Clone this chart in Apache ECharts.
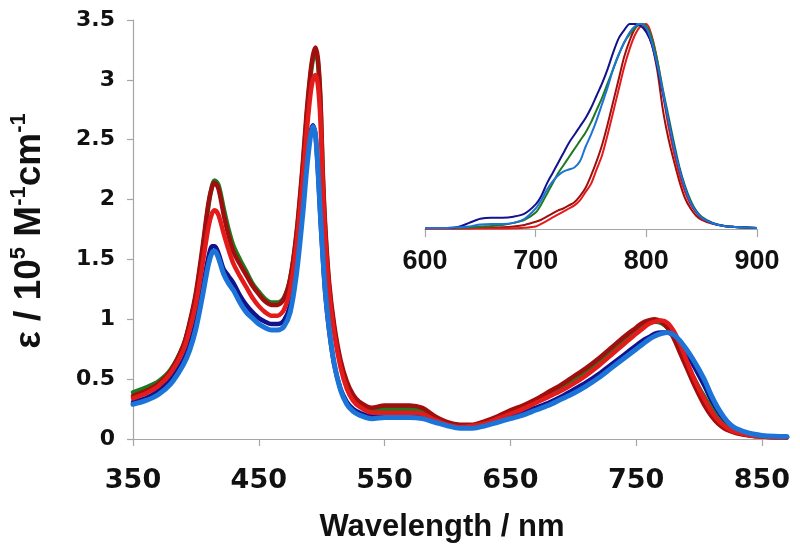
<!DOCTYPE html>
<html>
<head>
<meta charset="utf-8">
<script src="https://cdn.jsdelivr.net/npm/echarts@6/dist/echarts.min.js"></script>
<style>html,body{margin:0;padding:0;background:#fff}#c{width:800px;height:551px}</style>
</head>
<body>
<div id="c"></div>
<script>
// ---------- main absorption spectra ----------
const wavelengths = [350,360,370,380,390,395,400,405,410,413,415,418,422,426,430,435,440,445,450,455,460,465,470,475,480,485,488,491,493,495,497,499,501,503,506,510,515,520,525,530,540,550,560,570,580,590,600,610,620,630,640,650,660,670,680,690,700,710,720,730,740,750,755,760,765,770,775,780,785,790,795,800,805,810,815,820,825,830,840,850,860,870];
const absDarkRed = [0.36,0.40,0.46,0.57,0.78,0.97,1.22,1.58,1.97,2.11,2.14,2.09,1.88,1.70,1.56,1.46,1.37,1.28,1.21,1.15,1.12,1.12,1.17,1.34,1.72,2.30,2.72,3.05,3.20,3.27,3.18,2.85,2.20,1.75,1.30,0.95,0.66,0.48,0.37,0.31,0.26,0.28,0.28,0.28,0.26,0.19,0.14,0.12,0.12,0.15,0.19,0.24,0.28,0.33,0.39,0.45,0.52,0.59,0.67,0.76,0.85,0.93,0.97,0.99,1.00,0.98,0.93,0.84,0.72,0.60,0.48,0.37,0.27,0.19,0.13,0.09,0.065,0.048,0.03,0.02,0.015,0.015];
const absGreen = [0.39,0.43,0.48,0.58,0.78,0.96,1.20,1.55,1.95,2.12,2.16,2.12,1.93,1.75,1.61,1.50,1.40,1.30,1.23,1.17,1.14,1.14,1.18,1.34,1.70,2.27,2.68,3.02,3.17,3.24,3.15,2.82,2.17,1.72,1.27,0.92,0.63,0.45,0.35,0.29,0.24,0.25,0.25,0.25,0.23,0.17,0.13,0.11,0.11,0.14,0.18,0.22,0.26,0.31,0.36,0.42,0.48,0.55,0.63,0.72,0.81,0.90,0.94,0.97,0.98,0.97,0.93,0.86,0.76,0.64,0.53,0.43,0.34,0.25,0.17,0.115,0.08,0.055,0.032,0.02,0.015,0.015];
const absRed = [0.34,0.38,0.44,0.55,0.74,0.91,1.13,1.44,1.77,1.89,1.91,1.87,1.72,1.58,1.46,1.36,1.27,1.18,1.11,1.06,1.03,1.03,1.08,1.25,1.62,2.17,2.55,2.87,3.00,3.04,2.96,2.66,2.08,1.65,1.22,0.88,0.60,0.42,0.32,0.27,0.22,0.22,0.22,0.22,0.21,0.16,0.12,0.10,0.11,0.13,0.17,0.21,0.25,0.30,0.35,0.40,0.46,0.53,0.61,0.70,0.79,0.88,0.92,0.96,0.98,0.99,0.97,0.90,0.79,0.66,0.53,0.42,0.32,0.23,0.16,0.11,0.075,0.055,0.032,0.02,0.015,0.015];
const absNavy = [0.31,0.34,0.40,0.50,0.66,0.79,0.98,1.24,1.52,1.61,1.61,1.55,1.42,1.36,1.30,1.20,1.12,1.06,1.01,0.98,0.96,0.96,0.99,1.12,1.45,1.95,2.30,2.55,2.62,2.55,2.25,1.85,1.50,1.20,0.90,0.62,0.42,0.31,0.25,0.22,0.19,0.20,0.20,0.20,0.19,0.15,0.12,0.10,0.10,0.12,0.15,0.19,0.22,0.26,0.30,0.35,0.41,0.47,0.54,0.62,0.70,0.78,0.82,0.85,0.88,0.89,0.89,0.86,0.80,0.72,0.63,0.53,0.43,0.32,0.23,0.16,0.11,0.075,0.042,0.026,0.02,0.015];
const absLightBlue = [0.29,0.32,0.37,0.46,0.62,0.74,0.92,1.18,1.46,1.56,1.57,1.51,1.38,1.30,1.24,1.14,1.06,1.01,0.96,0.93,0.91,0.91,0.94,1.06,1.38,1.88,2.24,2.52,2.61,2.55,2.26,1.87,1.52,1.22,0.92,0.63,0.41,0.29,0.23,0.20,0.17,0.18,0.18,0.18,0.17,0.14,0.11,0.09,0.09,0.11,0.14,0.17,0.20,0.24,0.28,0.33,0.38,0.44,0.51,0.59,0.67,0.75,0.79,0.83,0.86,0.88,0.89,0.87,0.82,0.75,0.67,0.58,0.48,0.36,0.26,0.18,0.12,0.085,0.048,0.03,0.022,0.02];
const xTicks = [350,450,550,650,750,850];
const yTicks = [0,0.5,1,1.5,2,2.5,3,3.5];

// ---------- inset (normalised emission) ----------
const insetWavelengths = [600,620,630,640,650,660,670,680,690,700,705,710,715,720,725,730,735,740,745,750,755,760,765,770,775,780,785,790,795,800,805,810,815,820,825,830,835,840,845,850,860,870,880,890,900];
const emDarkRed = [0.002,0.002,0.003,0.004,0.005,0.006,0.008,0.012,0.02,0.035,0.045,0.06,0.075,0.09,0.10,0.115,0.13,0.16,0.20,0.26,0.33,0.41,0.51,0.62,0.73,0.84,0.92,0.98,1.0,0.97,0.90,0.77,0.58,0.44,0.33,0.23,0.15,0.10,0.065,0.045,0.025,0.015,0.01,0.007,0.005];
const emRed = [0.002,0.002,0.002,0.002,0.003,0.003,0.003,0.004,0.006,0.012,0.025,0.04,0.055,0.07,0.085,0.10,0.115,0.14,0.18,0.22,0.29,0.36,0.46,0.57,0.68,0.79,0.88,0.95,0.99,1.0,0.94,0.82,0.66,0.50,0.37,0.26,0.18,0.12,0.08,0.05,0.027,0.015,0.01,0.007,0.005];
const emGreen = [0.005,0.005,0.006,0.008,0.012,0.015,0.02,0.03,0.045,0.08,0.12,0.17,0.22,0.27,0.31,0.35,0.39,0.43,0.47,0.52,0.58,0.64,0.71,0.78,0.85,0.91,0.95,0.98,1.0,0.99,0.93,0.82,0.68,0.55,0.42,0.30,0.21,0.14,0.09,0.06,0.03,0.016,0.01,0.007,0.005];
const emNavy = [0.005,0.005,0.01,0.03,0.05,0.055,0.055,0.06,0.075,0.12,0.16,0.22,0.27,0.32,0.37,0.42,0.46,0.50,0.54,0.59,0.65,0.71,0.78,0.86,0.93,0.97,1.0,1.0,0.99,0.96,0.90,0.79,0.66,0.53,0.40,0.29,0.20,0.13,0.085,0.055,0.028,0.015,0.01,0.007,0.005];
const emLightBlue = [0.005,0.005,0.008,0.012,0.022,0.025,0.025,0.03,0.05,0.10,0.14,0.19,0.23,0.26,0.28,0.29,0.30,0.33,0.40,0.46,0.53,0.61,0.69,0.78,0.85,0.91,0.96,0.99,1.0,0.98,0.91,0.80,0.67,0.53,0.40,0.29,0.20,0.13,0.085,0.055,0.028,0.015,0.01,0.007,0.005];
const insetTicks = [600,700,800,900];

const colors = {navy:'#12128c', green:'#1f7a1f', red:'#e41b1b', darkred:'#a00e0e', lightblue:'#1c74d8'};

function pairs(xs, ys){ return xs.map((x,i)=>[x, ys[i]]); }
function mainLine(name, ys, color, w){
  return {name, type:'line', xAxisIndex:0, yAxisIndex:0, data:pairs(wavelengths, ys), showSymbol:false, smooth:0.3,
    lineStyle:{color, width:w, cap:'round', join:'round'}, itemStyle:{color}, z:2, silent:true};
}
function insetLine(name, ys, color){
  return {name, type:'line', xAxisIndex:1, yAxisIndex:1, data:pairs(insetWavelengths, ys), showSymbol:false, smooth:0.3,
    lineStyle:{color, width:2, join:'round'}, itemStyle:{color}, z:3, silent:true};
}

const axisGray = '#a6a6a6';
const chart = echarts.init(document.getElementById('c'), null, {renderer:'canvas'});
chart.setOption({
  animation:false,
  backgroundColor:'#fff',
  grid:[
    {left:133, right:13, top:20, bottom:112, containLabel:false},
    {left:425, width:332, top:24, height:205, containLabel:false}
  ],
  xAxis:[
    {type:'value', gridIndex:0, min:350, max:870,
      axisLine:{show:true, onZero:false, lineStyle:{color:axisGray, width:1.2}},
      axisTick:{show:true, length:7, inside:false, customValues:xTicks, lineStyle:{color:axisGray, width:1.2}},
      axisLabel:{customValues:xTicks, margin:28, color:'#111', fontFamily:'DejaVu Sans', fontWeight:'bold', fontSize:27},
      splitLine:{show:false}},
    {type:'value', gridIndex:1, min:600, max:900, interval:100,
      axisLine:{show:true, onZero:false, lineStyle:{color:axisGray, width:1.2}},
      axisTick:{show:true, length:8, lineStyle:{color:axisGray, width:1.2}},
      axisLabel:{customValues:insetTicks, margin:19, color:'#111', fontFamily:'Liberation Sans', fontWeight:'bold', fontSize:27},
      splitLine:{show:false}}
  ],
  yAxis:[
    {type:'value', gridIndex:0, min:0, max:3.5, interval:0.5,
      axisLine:{show:true, lineStyle:{color:axisGray, width:1.2}},
      axisTick:{show:true, length:6, lineStyle:{color:axisGray, width:1.2}},
      axisLabel:{customValues:yTicks, margin:18, color:'#111', fontFamily:'DejaVu Sans', fontWeight:'bold', fontSize:22},
      splitLine:{show:false}},
    {type:'value', gridIndex:1, min:0, max:1, show:false, splitLine:{show:false}}
  ],
  series:[
    mainLine('navy', absNavy, colors.navy, 4.5),
    mainLine('green', absGreen, colors.green, 4.5),
    mainLine('darkred', absDarkRed, colors.darkred, 4.5),
    mainLine('red', absRed, colors.red, 4.5),
    mainLine('lightblue', absLightBlue, colors.lightblue, 5),
    insetLine('darkred-em', emDarkRed, colors.darkred),
    insetLine('red-em', emRed, colors.red),
    insetLine('green-em', emGreen, colors.green),
    insetLine('navy-em', emNavy, colors.navy),
    insetLine('lightblue-em', emLightBlue, colors.lightblue)
  ],
  graphic:[
    {type:'text', x:442, y:527, style:{text:'Wavelength / nm', fill:'#111', font:'bold 31px "Liberation Sans", Arial, sans-serif', align:'center', verticalAlign:'middle'}},
    {type:'text', x:28, y:231, rotation:Math.PI/2,
      style:{text:'{a|ε / 10}{s|5}{a| M}{s|-1}{a|cm}{s|-1}', fill:'#111', align:'center', verticalAlign:'middle',
        rich:{
          a:{fontFamily:'Liberation Sans', fontWeight:'bold', fontSize:37, fill:'#111', verticalAlign:'bottom', lineHeight:41},
          s:{fontFamily:'Liberation Sans', fontWeight:'bold', fontSize:22, fill:'#111', verticalAlign:'top', lineHeight:41}
        }}}
  ]
});
</script>
</body>
</html>
